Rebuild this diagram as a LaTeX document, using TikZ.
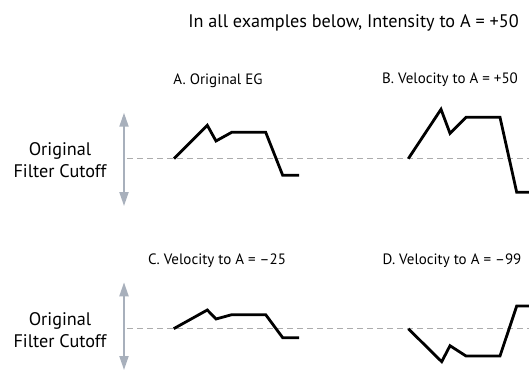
\documentclass[tikz,border=0pt]{standalone}
\usepackage{fontspec}
\setmainfont{PT Sans}
\usetikzlibrary{
    arrows.meta    % Triangle tips for the range arrows
}
\definecolor{range_gray}{RGB}{168,176,188}
\definecolor{ref_gray}{RGB}{172,172,172}

\begin{document}
\begin{tikzpicture}[x=1pt, y=-1pt,
        txt/.style={anchor=base, inner sep=0pt, font=\fontsize{15}{18}\selectfont},
        bigtxt/.style={anchor=base, inner sep=0pt, font=\fontsize{18.2}{22.7}\selectfont},
        lbl/.style={bigtxt, align=center},
        rangearrow/.style={{Triangle[length=14pt,width=9pt]}-{Triangle[length=14pt,width=9pt]}, range_gray, line width=2pt},
        reflevel/.style={ref_gray, line width=1pt, dash pattern=on 5.5pt off 4.5pt},
        eg/.style={line width=2.8pt}]
    \clip (0,0) rectangle (529,369);
    % texts
    \node[bigtxt] (head) at (353.5,28) {In all examples below, Intensity to A = +50};
    \node[txt] (tA) at (218,84) {A. Original EG};
    \node[txt] (tB) at (450,83.5) {B. Velocity to A = +50};
    \node[txt] (tC) at (217,264.5) {C. Velocity to A = –25};
    \node[txt] (tD) at (452,264.5) {D. Velocity to A = –99};
    \node[lbl] (cutU) at (60,177.7) {Original\\Filter Cutoff};
    \node[lbl] (cutL) at (60,347.7) {Original\\Filter Cutoff};
    % range arrows and reference levels
    \coordinate (rU1) at (124,112.7);
    \coordinate (rU2) at (124,206);
    \coordinate (rL1) at (124,282.3);
    \coordinate (rL2) at (124,370);
    \coordinate (lvU1) at (127,158.7);
    \coordinate (lvU2) at (529,158.7);
    \coordinate (lvL1) at (127,328.7);
    \coordinate (lvL2) at (529,328.7);
    \draw[rangearrow] (rU1) -- (rU2);
    \draw[rangearrow] (rL1) -- (rL2);
    \draw[reflevel] (lvU1) -- (lvU2);
    \draw[reflevel] (lvL1) -- (lvL2);
    % envelopes
    \draw[eg] (174,158.7) -- (207.3,125.3) -- (216,141) -- (231.7,132.3) -- (265.7,132.3) -- (282.7,175.3) -- (299,175.3);
    \draw[eg] (408.3,158.7) -- (441,109.3) -- (450,133.3) -- (466,117.3) -- (500,117.3) -- (516.7,192.3) -- (532,192.3);
    \draw[eg] (173.7,328.7) -- (207.3,310) -- (216,319) -- (231.7,314.7) -- (265.7,314.7) -- (282.7,337.7) -- (299,337.7);
    \draw[eg] (408.3,328.7) -- (441.7,361.7) -- (450,345.7) -- (466,356) -- (500,356) -- (516.7,306) -- (532,306);
\end{tikzpicture}
\end{document}
